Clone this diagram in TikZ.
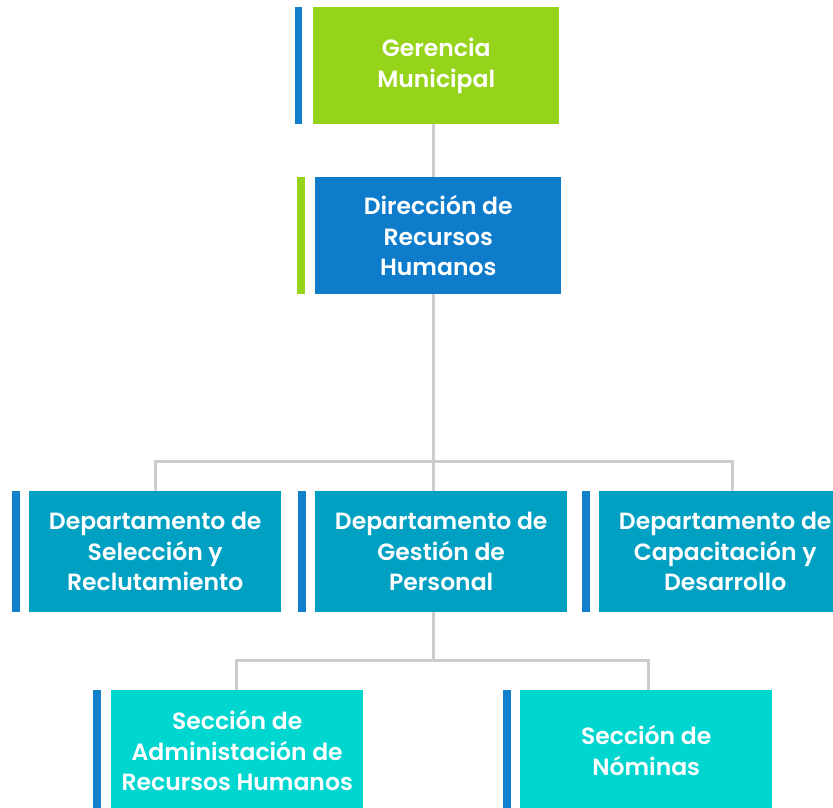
\documentclass[tikz,border=0pt]{standalone}
\usepackage{fontspec}
\setmainfont{Poppins}[UprightFont=* SemiBold]
\definecolor{cgreen}{HTML}{95D41A}
\definecolor{cblue}{HTML}{0E7CCB}
\definecolor{cbar}{HTML}{1380CC}
\definecolor{cteal}{HTML}{00A0C2}
\definecolor{ccyan}{HTML}{00D6D0}
\definecolor{cline}{HTML}{CCCCCC}
\begin{document}
\begin{tikzpicture}[x=1pt,y=-1pt,
  box/.style={rectangle, anchor=north west, inner sep=0pt, text=white,
    align=center, font=\fontsize{23.5}{30.5}\selectfont},
  boxA/.style={box, minimum width=246pt, minimum height=117pt},
  boxB/.style={box, minimum width=252pt, minimum height=121pt},
  conn/.style={draw=cline, line width=3pt, line join=miter}]
\useasboundingbox (0,0) rectangle (833,808);
\coordinate (t1) at (433,461);
\coordinate (t2) at (433,660);
% nodes
\node[boxA, fill=cgreen] (g) at (313,7) {Gerencia\\Municipal};
\node[boxA, fill=cblue] (d) at (315,177) {Dirección de\\Recursos\\Humanos};
\node[boxB, fill=cteal] (s1) at (29,491) {Departamento de\\Selección y\\Reclutamiento};
\node[boxB, fill=cteal] (s2) at (315,491) {Departamento de\\Gestión de\\Personal};
\node[boxB, fill=cteal] (s3) at (599,491) {Departamento de\\Capacitación y\\Desarrollo};
\node[boxB, fill=ccyan] (n1) at (111,690) {Sección de\\Administación de\\Recursos Humanos};
\node[boxB, fill=ccyan] (n2) at (520,690) {Sección de\\Nóminas};
% side bars
\fill[cbar] ([xshift=-18pt]g.north west) rectangle ([xshift=-11pt]g.south west);
\fill[cgreen] ([xshift=-18pt]d.north west) rectangle ([xshift=-10pt]d.south west);
\fill[cbar] ([xshift=-17pt]s1.north west) rectangle ([xshift=-9pt]s1.south west);
\fill[cbar] ([xshift=-17pt]s2.north west) rectangle ([xshift=-9pt]s2.south west);
\fill[cbar] ([xshift=-17pt]s3.north west) rectangle ([xshift=-9pt]s3.south west);
\fill[cbar] ([xshift=-18pt]n1.north west) rectangle ([xshift=-10pt]n1.south west);
\fill[cbar] ([xshift=-17pt]n2.north west) rectangle ([xshift=-9pt]n2.south west);
% connectors
\draw[conn] (g.south -| t1) -- (d.north -| t1);
\draw[conn] (d.south -| t1) -- (t1);
\draw[conn] (s1.north) |- (t1) -| ([xshift=7pt]s3.north);
\draw[conn] (t1) -- (s2.north -| t1);
\draw[conn] (s2.south -| t2) -- (t2);
\draw[conn] ([xshift=-1pt]n1.north) |- (t2) -| ([xshift=2pt]n2.north);
\end{tikzpicture}
\end{document}
